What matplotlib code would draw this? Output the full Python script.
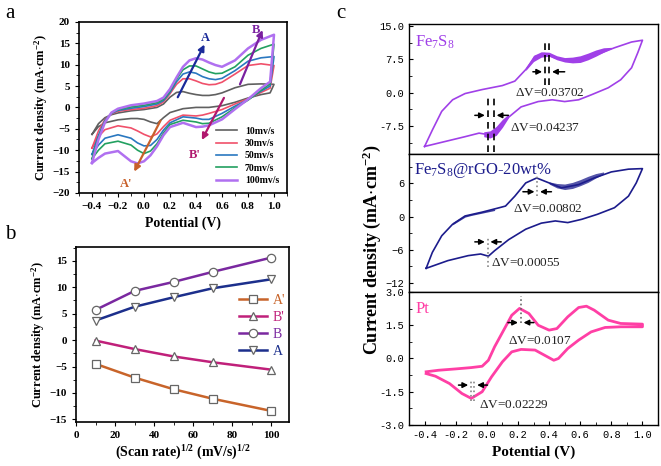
import numpy as np
import matplotlib.pyplot as plt
from matplotlib.ticker import MultipleLocator

plt.rcParams['font.family'] = ['Liberation Serif', 'DejaVu Serif']
plt.rcParams['mathtext.default'] = 'regular'

# ---------------- panel a: CV curves at several scan rates ----------------
scan_labels = ['10mv/s', '30mv/s', '50mv/s', '70mv/s', '100mv/s']
scan_colors = ['#606060', '#f0506a', '#2a78c0', '#22a060', '#b070f0']

v_fwd = [-0.4, -0.35, -0.3, -0.25, -0.2, -0.1, 0.0, 0.1, 0.15, 0.2, 0.25,
         0.3, 0.35, 0.4, 0.45, 0.5, 0.55, 0.6, 0.7, 0.8, 0.9, 1.0]
j10_fwd = [-6.3, -3.8, -2.4, -1.7, -1.3, -0.8, -0.5, 0.0, 0.8, 2.4, 3.5,
           3.7, 3.3, 3.0, 2.8, 2.8, 3.0, 3.4, 4.6, 5.4, 5.5, 5.4]
j30_fwd = [-9.5, -5.5, -2.8, -1.5, -0.9, -0.5, -0.2, 0.4, 1.3, 3.2, 5.4,
           6.7, 6.7, 6.2, 5.6, 5.3, 5.4, 5.9, 7.8, 9.8, 10.2, 9.8]
j50_fwd = [-11.0, -6.5, -3.0, -1.4, -0.7, -0.2, 0.2, 0.8, 1.6, 3.5, 6.0,
           7.8, 8.3, 8.0, 7.2, 6.7, 6.5, 6.8, 8.6, 10.8, 11.6, 11.9]
j70_fwd = [-12.0, -7.0, -3.2, -1.3, -0.5, 0.1, 0.5, 1.1, 1.9, 3.8, 6.6,
           8.8, 9.7, 9.7, 9.0, 8.3, 7.9, 8.0, 9.5, 12.2, 13.8, 14.8]
j100_fwd = [-13.0, -7.5, -3.5, -1.2, -0.3, 0.5, 0.9, 1.5, 2.3, 4.3, 7.0,
            9.5, 11.0, 11.5, 11.2, 10.5, 9.9, 9.5, 11.0, 13.8, 15.8, 17.0]

v_rev = [1.0, 0.97, 0.9, 0.8, 0.7, 0.6, 0.5, 0.45, 0.4, 0.3, 0.2, 0.15,
         0.1, 0.05, 0.0, -0.05, -0.1, -0.2, -0.3, -0.35, -0.4]
j10_rev = [5.4, 3.4, 3.0, 2.2, 1.2, 0.4, 0.0, 0.0, 0.0, -0.3, -1.2, -2.4,
           -3.8, -3.4, -2.8, -2.6, -2.6, -2.9, -3.6, -4.5, -6.3]
j30_rev = [9.8, 4.5, 3.5, 2.0, 0.8, -0.5, -1.4, -1.8, -2.0, -1.8, -3.0, -4.5,
           -6.2, -6.9, -6.3, -5.5, -4.8, -4.3, -5.2, -6.8, -9.5]
j50_rev = [11.9, 5.0, 3.8, 1.8, 0.3, -1.4, -2.8, -2.8, -2.5, -2.2, -3.6, -5.3,
           -7.5, -8.9, -9.0, -8.3, -7.2, -6.4, -7.2, -8.8, -11.0]
j70_rev = [14.8, 5.5, 4.0, 1.7, -0.1, -2.2, -3.7, -3.8, -3.4, -3.0, -4.0, -6.0,
           -8.5, -10.2, -10.8, -10.0, -8.8, -7.9, -8.5, -10.0, -12.0]
j100_rev = [17.0, 6.0, 4.5, 1.9, -0.4, -2.8, -4.2, -4.5, -4.6, -3.6, -4.6, -6.5,
            -9.1, -11.2, -12.6, -13.1, -12.6, -10.2, -10.8, -11.8, -13.0]

# ---------------- panel b: peak current vs scan rate ----------------
rate_sqrt = [10, 30, 50, 70, 100]
peak_A1 = [-4.5, -7.1, -9.3, -11.1, -13.4]   # A'
peak_B1 = [-0.1, -1.7, -3.1, -4.2, -5.6]     # B'
peak_B = [5.7, 9.3, 11.0, 12.9, 15.6]
peak_A = [3.7, 6.3, 8.1, 9.8, 11.5]

# ---------------- panel c: repeated CV cycles ----------------
fe_v_fwd = [-0.40, -0.35, -0.29, -0.22, -0.14, -0.03, 0.10, 0.18, 0.25, 0.31,
            0.37, 0.44, 0.52, 0.61, 0.71, 0.82, 0.93, 1.00]
fe_j_fwd = [-12.1, -8.4, -4.2, -1.6, -0.2, 0.7, 1.6, 2.6, 5.2, 8.1,
            8.8, 7.8, 7.3, 7.5, 8.6, 10.1, 11.4, 11.8]
fe_v_rev = [1.00, 0.97, 0.93, 0.86, 0.78, 0.67, 0.59, 0.50, 0.42, 0.33,
            0.22, 0.12, 0.05, 0.02, -0.05, -0.14, -0.27, -0.40]
fe_j_rev = [11.8, 9.0, 5.6, 2.9, 1.1, -0.5, -1.6, -2.0, -1.6, -2.0,
            -3.2, -6.1, -8.7, -9.5, -9.1, -9.9, -11.0, -12.1]
fe_band_v = [0.25, 0.3, 0.35, 0.4, 0.45, 0.5, 0.55, 0.6, 0.65, 0.7, 0.75, 0.8]
fe_band_hi = [5.6, 8.4, 9.2, 9.1, 8.3, 7.9, 8.0, 8.3, 8.9, 9.6, 10.1, 10.2]
fe_band_lo = [5.0, 7.0, 8.0, 8.2, 7.4, 6.9, 6.7, 6.8, 7.4, 8.2, 9.1, 9.9]
fe_band2_v = [-0.02, 0.02, 0.06, 0.10, 0.14]
fe_band2_hi = [-8.8, -8.6, -7.6, -6.0, -4.8]
fe_band2_lo = [-9.9, -10.2, -9.6, -7.8, -5.6]

rgo_v_fwd = [-0.39, -0.35, -0.29, -0.22, -0.14, -0.03, 0.08, 0.12, 0.18, 0.25,
             0.32, 0.40, 0.48, 0.59, 0.69, 0.80, 0.91, 1.00]
rgo_j_fwd = [-9.4, -6.5, -3.5, -1.4, 0.1, 0.8, 1.6, 1.9, 3.7, 6.1,
             7.0, 6.1, 5.2, 5.8, 7.0, 8.1, 8.6, 8.7]
rgo_v_rev = [1.00, 0.96, 0.91, 0.82, 0.71, 0.61, 0.52, 0.44, 0.35, 0.25,
             0.14, 0.05, 0.01, -0.04, -0.12, -0.25, -0.39]
rgo_j_rev = [8.7, 6.1, 3.7, 1.6, 0.4, -0.5, -1.1, -0.8, -1.2, -2.3,
             -4.2, -6.2, -7.2, -6.8, -7.1, -8.0, -9.4]
rgo_band_v = [0.4, 0.45, 0.5, 0.55, 0.6, 0.65, 0.7, 0.75]
rgo_band_hi = [6.3, 6.0, 5.9, 6.2, 6.7, 7.3, 7.8, 8.1]
rgo_band_lo = [5.9, 5.2, 4.9, 5.1, 5.6, 6.2, 7.0, 7.7]
rgo_band2_v = [-0.22, -0.18, -0.14, -0.1, -0.05, 0.0, 0.05]
rgo_band2_hi = [-1.1, -0.4, 0.2, 0.5, 0.8, 1.1, 1.4]
rgo_band2_lo = [-1.5, -0.8, -0.1, 0.2, 0.5, 0.8, 1.1]

pt_v_fwd = [-0.39, -0.31, -0.20, -0.10, -0.03, 0.01, 0.05, 0.12, 0.16, 0.21, 0.27,
            0.33, 0.40, 0.45, 0.52, 0.59, 0.64, 0.69, 0.78, 0.86, 1.00]
pt_j_fwd = [-0.60, -0.53, -0.47, -0.41, -0.35, -0.08, 0.53, 1.43, 1.95, 2.26, 2.03,
            1.50, 1.28, 1.35, 1.88, 2.30, 2.36, 2.18, 1.73, 1.58, 1.55]
pt_v_rev = [1.00, 0.86, 0.76, 0.67, 0.59, 0.52, 0.46, 0.43, 0.37, 0.31, 0.22,
            0.16, 0.10, 0.03, -0.03, -0.10, -0.16, -0.24, -0.33, -0.39]
pt_j_rev = [1.43, 1.43, 1.40, 1.20, 0.83, 0.45, 0.00, -0.08, 0.15, 0.38, 0.41,
            0.30, -0.15, -0.83, -1.50, -1.80, -1.58, -1.13, -0.80, -0.68]

ylab = 'Current density (mA$\\cdot$cm$^{-2}$)'
bold = dict(fontweight='bold')

fig = plt.figure(figsize=(6.61, 4.66), dpi=100)


def style_box(ax, lw=1.2):
    for s in ax.spines.values():
        s.set_linewidth(lw)


# ===== panel a =====
ax = fig.add_axes([0.1195, 0.586, 0.3147, 0.367])
fwd_sets = [j10_fwd, j30_fwd, j50_fwd, j70_fwd, j100_fwd]
rev_sets = [j10_rev, j30_rev, j50_rev, j70_rev, j100_rev]
for k in range(5):
    vv = v_fwd + v_rev
    jj = fwd_sets[k] + rev_sets[k]
    ax.plot(vv, jj, color=scan_colors[k], lw=1.8 if k == 4 else 1.2,
            label=scan_labels[k])
ax.set_xlim(-0.5, 1.1)
ax.set_ylim(-20, 20)
ax.xaxis.set_major_locator(MultipleLocator(0.2))
ax.xaxis.set_minor_locator(MultipleLocator(0.1))
ax.yaxis.set_major_locator(MultipleLocator(5))
ax.yaxis.set_minor_locator(MultipleLocator(2.5))
ax.tick_params(direction='out', labelsize=8, length=3)
ax.tick_params(which='minor', direction='out', length=2)
for t in ax.get_xticklabels() + ax.get_yticklabels():
    t.set_fontweight('bold')
ax.set_xlabel('Potential (V)', fontsize=10, labelpad=4, **bold)
ax.set_ylabel(ylab, fontsize=9, labelpad=2, **bold)
style_box(ax)
ax.legend(loc='lower right', frameon=False, prop={'weight': 'bold', 'size': 7},
          handlelength=2.2, labelspacing=0.35, borderaxespad=0.4)

arrows_a = [((0.25, 1.8), (0.475, 15.3), '#1a2a9a', 'A', (0.47, 16.2)),
            ((0.73, 4.8), (0.92, 18.7), '#7a20a0', 'B', (0.86, 18.2)),
            ((0.625, 2.8), (0.435, -8.2), '#b0186e', "B'", (0.39, -11.2)),
            ((0.137, -2.5), (-0.085, -15.6), '#c8602a', "A'", (-0.14, -18.0))]
for tail, head, col, lab, pos in arrows_a:
    ax.annotate('', xy=head, xytext=tail,
                arrowprops=dict(arrowstyle='-|>', color=col, lw=1.6,
                                mutation_scale=9))
    ax.text(pos[0], pos[1], lab, color=col, fontsize=9, ha='center',
            va='center', **bold)

fig.text(0.008, 0.972, 'a', fontsize=15, va='center')

# ===== panel b =====
ax = fig.add_axes([0.115, 0.0944, 0.322, 0.3755])
ax.plot(rate_sqrt, peak_A1, color='#c8642a', marker='s', label="A'")
ax.plot(rate_sqrt, peak_B1, color='#c0207a', marker='^', label="B'")
ax.plot(rate_sqrt, peak_B, color='#7a28a0', marker='o', label='B')
ax.plot(rate_sqrt, peak_A, color='#1c2f8c', marker='v', label='A')
for ln in ax.get_lines():
    ln.set_linewidth(1.8)
    ln.set_markersize(6)
    ln.set_markerfacecolor('white')
    ln.set_markeredgecolor('#666666')
    ln.set_markeredgewidth(0.9)
ax.set_xlim(0, 109)
ax.set_ylim(-15.5, 17.6)
ax.xaxis.set_major_locator(MultipleLocator(20))
ax.xaxis.set_minor_locator(MultipleLocator(10))
ax.yaxis.set_major_locator(MultipleLocator(5))
ax.yaxis.set_minor_locator(MultipleLocator(2.5))
ax.tick_params(direction='out', labelsize=8, length=3)
ax.tick_params(which='minor', direction='out', length=2)
for t in ax.get_xticklabels() + ax.get_yticklabels():
    t.set_fontweight('bold')
ax.set_xlabel('(Scan rate)$^{1/2}$ (mV/s)$^{1/2}$', fontsize=10, labelpad=3, **bold)
ax.set_ylabel(ylab, fontsize=9, labelpad=2, **bold)
style_box(ax)
ax.legend(loc='center right', bbox_to_anchor=(1.04, 0.55), frameon=False,
          fontsize=10, handlelength=2.0, labelspacing=0.3, handletextpad=0.4,
          labelcolor='linecolor')

fig.text(0.008, 0.497, 'b', fontsize=15, va='center')

# ===== panel c =====
cx0, cw = 0.6188, 0.3767
ax1 = fig.add_axes([cx0, 0.6695, cw, 0.2790])
ax2 = fig.add_axes([cx0, 0.3734, cw, 0.2961], sharex=ax1)
ax3 = fig.add_axes([cx0, 0.0880, cw, 0.2854], sharex=ax1)

fe_col, rgo_col, pt_col = '#a040e8', '#1c1c8c', '#ff3fa5'

ax1.plot(fe_v_fwd + fe_v_rev, fe_j_fwd + fe_j_rev, color=fe_col, lw=1.2)
ax1.fill_between(fe_band_v, fe_band_lo, fe_band_hi, color=fe_col, lw=0)
ax1.fill_between(fe_band2_v, fe_band2_lo, fe_band2_hi, color=fe_col, lw=0)
ax1.set_ylim(-13.8, 15.45)
ax1.set_yticks([-7.5, 0, 7.5, 15])
ax1.set_yticklabels(['-7.5', '0.0', '7.5', '15.0'])
ax1.yaxis.set_minor_locator(MultipleLocator(3.75))
ax1.text(0.025, 0.86, 'Fe$_7$S$_8$', transform=ax1.transAxes, color=fe_col,
         fontsize=12, va='center')

ax2.plot(rgo_v_fwd + rgo_v_rev, rgo_j_fwd + rgo_j_rev, color=rgo_col, lw=1.2)
ax2.fill_between(rgo_band_v, rgo_band_lo, rgo_band_hi, color=rgo_col, lw=0, alpha=0.75)
ax2.fill_between(rgo_band2_v, rgo_band2_lo, rgo_band2_hi, color=rgo_col, lw=0, alpha=0.85)
ax2.set_ylim(-13.7, 11.35)
ax2.set_yticks([-12, -6, 0, 6])
ax2.yaxis.set_minor_locator(MultipleLocator(3))
ax2.text(0.02, 0.88, 'Fe$_7$S$_8$@rGO-20wt%', transform=ax2.transAxes,
         color=rgo_col, fontsize=12, va='center')

ax3.plot(pt_v_fwd + pt_v_rev, pt_j_fwd + pt_j_rev, color=pt_col, lw=2.0)
ax3.set_ylim(-3, 3)
ax3.set_yticks([-3, -1.5, 0, 1.5, 3])
ax3.set_yticklabels(['-3.0', '-1.5', '0.0', '1.5', '3.0'])
ax3.yaxis.set_minor_locator(MultipleLocator(0.75))
ax3.text(0.025, 0.87, 'Pt', transform=ax3.transAxes, color=pt_col,
         fontsize=12, va='center')

ax3.set_xlim(-0.5, 1.1)
ax3.set_xticks([-0.4, -0.2, 0.0, 0.2, 0.4, 0.6, 0.8, 1.0])
ax3.set_xticklabels(['-0.4', '-0.2', '0.0', '0.2', '0.4', '0.6', '0.8', '1.0'])
ax3.xaxis.set_minor_locator(MultipleLocator(0.1))
ax3.set_xlabel('Potential (V)', fontsize=11, labelpad=4, **bold)

for a in (ax1, ax2, ax3):
    style_box(a, 1.0)
    a.tick_params(direction='in', length=3, labelsize=7.5,
                  labelfontfamily='Liberation Mono')
    a.tick_params(which='minor', direction='in', length=2)
for a in (ax1, ax2):
    a.tick_params(axis='x', which='both', bottom=False, labelbottom=False)


def peak_marks(a, xs, y0, y1, ya, left_tail, right_tail, ls, col, txt, txy):
    for x in xs:
        a.plot([x, x], [y0, y1], ls=ls, color=col, lw=1.2)
    a.annotate('', xy=(xs[0], ya), xytext=(left_tail, ya),
               arrowprops=dict(arrowstyle='-|>', color='k', lw=1.1, mutation_scale=8))
    a.annotate('', xy=(xs[-1], ya), xytext=(right_tail, ya),
               arrowprops=dict(arrowstyle='-|>', color='k', lw=1.1, mutation_scale=8))
    a.text(txy[0], txy[1], txt, fontsize=9.5, color='#222222', va='center')


peak_marks(ax1, [0.373, 0.401], 1.8, 11.6, 4.7, 0.278, 0.518, (0, (4, 3)), 'k',
           '$\\Delta$V=0.03702', (0.18, 0.0))
peak_marks(ax1, [0.005, 0.045], -13.3, -1.2, -5.1, -0.095, 0.156, (0, (4, 3)), 'k',
           '$\\Delta$V=0.04237', (0.15, -8.0))
peak_marks(ax2, [0.324], 3.7, 7.8, 4.5, 0.214, 0.433, ':', '#888888',
           '$\\Delta$V=0.00802', (0.17, 1.4))
peak_marks(ax2, [0.005], -9.2, -3.8, -4.6, -0.095, 0.11, ':', '#888888',
           '$\\Delta$V=0.00055', (0.028, -8.4))
peak_marks(ax3, [0.218], 1.6, 2.8, 1.62, 0.118, 0.32, ':', '#666666',
           '$\\Delta$V=0.0107', (0.133, 0.8))
peak_marks(ax3, [-0.102, -0.08], -1.9, -1.0, -1.2, -0.2, 0.022, ':', '#888888',
           '$\\Delta$V=0.02229', (-0.048, -2.1))

fig.text(372 / 661, 1 - 250 / 466, ylab, rotation=90, fontsize=13,
         ha='center', va='center', **bold)
fig.text(0.508, 0.972, 'c', fontsize=15, va='center')

fig.savefig('out.png', dpi=100)
